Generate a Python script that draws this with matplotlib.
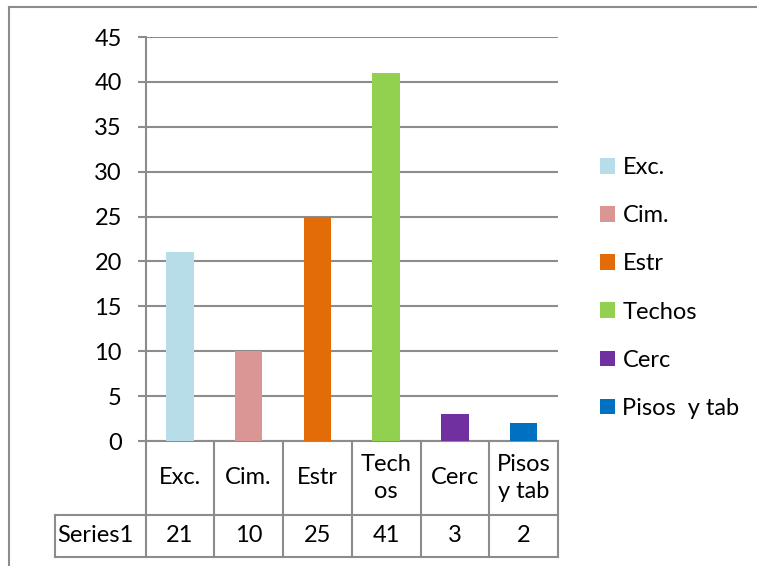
import matplotlib
matplotlib.use('Agg')
import matplotlib.pyplot as plt
import matplotlib.transforms as mtransforms
from matplotlib.patches import Patch
from matplotlib.lines import Line2D

categories = ['Exc.', 'Cim.', 'Estr', 'Techos', 'Cerc', 'Pisos  y tab']
table_labels = ['Exc.', 'Cim.', 'Estr', 'Tech\nos', 'Cerc', 'Pisos\ny tab']
values = [21, 10, 25, 41, 3, 2]
colors = ['#B7DEE8', '#D99694', '#E36C09', '#92D050', '#7030A0', '#0070C0']
series_name = 'Series1'
yticks = list(range(0, 50, 5))

W, H = 757, 566
grid_c = '#8c8c8c'
fs = 17
plt.rcParams['font.family'] = ['Lato', 'DejaVu Sans']

fig = plt.figure(figsize=(W / 100, H / 100), dpi=100)
ax = fig.add_axes([145.5 / W, 1 - 441 / H, (558 - 145.5) / W, (441 - 37) / H])

x = list(range(len(values)))
ax.bar(x, values, width=0.4, color=colors, zorder=3)
ax.set_xlim(-0.5, len(values) - 0.5)
ax.set_ylim(0, 45)
ax.set_yticks(yticks)
ax.set_xticks([])
ax.yaxis.grid(True, color=grid_c, linewidth=1.5, zorder=0)
ax.set_axisbelow(True)
for s in ['top', 'right', 'bottom']:
    ax.spines[s].set_visible(False)
ax.spines['left'].set_color(grid_c)
ax.spines['left'].set_linewidth(1.5)
ax.tick_params(axis='y', length=6, width=1.5, color=grid_c, pad=11, labelsize=fs)

# data table under the plot
trans = mtransforms.blended_transform_factory(ax.transData, ax.transAxes)
y_mid = (441 - 515) / 404
y_bot = (441 - 557) / 404
x_left = -0.5 - (145.5 - 55) / 68.75
line_kw = dict(transform=trans, color=grid_c, lw=1.5, clip_on=False)
for i in range(len(values) + 1):
    ax.add_artist(Line2D([i - 0.5, i - 0.5], [0, y_bot], **line_kw))
ax.add_artist(Line2D([x_left, len(values) - 0.5], [y_mid, y_mid], **line_kw))
ax.add_artist(Line2D([x_left, len(values) - 0.5], [y_bot, y_bot], **line_kw))
ax.add_artist(Line2D([x_left, x_left], [y_mid, y_bot], **line_kw))
ax.add_artist(Line2D([-0.5, len(values) - 0.5], [0, 0], **line_kw))
for i, (lab, v) in enumerate(zip(table_labels, values)):
    ax.text(i, y_mid / 2, lab, transform=trans, ha='center', va='center',
            fontsize=fs, linespacing=1.3)
    ax.text(i, (y_mid + y_bot) / 2, str(v), transform=trans, ha='center',
            va='center', fontsize=fs)
ax.text(x_left + 0.03, (y_mid + y_bot) / 2, series_name, transform=trans,
        ha='left', va='center', fontsize=fs)

# legend
handles = [Patch(facecolor=c, edgecolor='none', label=l) for c, l in zip(colors, categories)]
fig.legend(handles=handles, loc='center left', bbox_to_anchor=(579 / W, 1 - 288 / H),
           frameon=False, fontsize=fs, handlelength=0.64, handleheight=0.64,
           handletextpad=0.3, labelspacing=1.15)

# chart area border (partially cropped)
fig.add_artist(Line2D([9 / W, 9 / W], [1 - 7 / H, 0], transform=fig.transFigure, color=grid_c, lw=1.5))
fig.add_artist(Line2D([9 / W, 1], [1 - 7 / H, 1 - 7 / H], transform=fig.transFigure, color=grid_c, lw=1.5))

fig.savefig('out.png', dpi=100)
